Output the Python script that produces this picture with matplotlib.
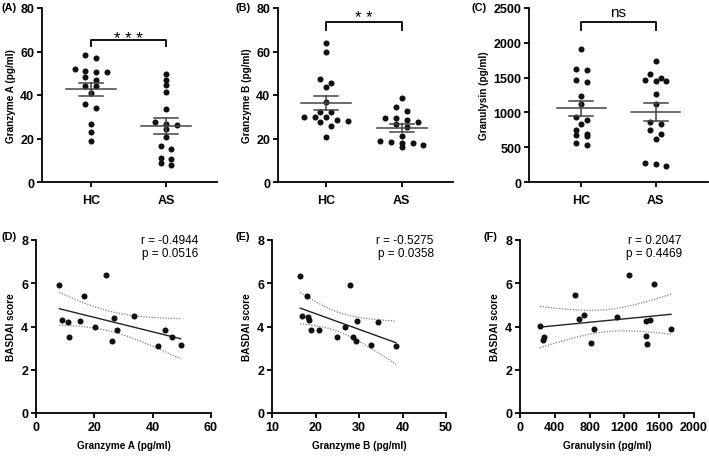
import numpy as np
import matplotlib
matplotlib.use("Agg")
import matplotlib.pyplot as plt

plt.rcParams["font.family"] = ["Liberation Sans", "DejaVu Sans"]

# ---- top row: group comparisons (HC vs AS) ----
groups = ["HC", "AS"]

gzma_hc = [57.2, 58.2, 50.8, 50.8, 51.2, 52.0, 46.9, 48.2, 44.0, 44.0,
           40.8, 35.8, 34.0, 26.6, 22.8, 18.8]
gzma_as = [49.7, 46.9, 44.6, 41.5, 33.5, 27.7, 26.6, 26.2, 24.3, 20.5,
           16.6, 15.1, 11.2, 10.5, 8.6, 7.8]

gzmb_hc = [63.8, 59.7, 47.4, 45.5, 43.5, 36.9, 32.0, 32.0, 29.7, 28.2,
           27.4, 29.7, 29.7, 28.5, 25.8, 20.8]
gzmb_as = [38.5, 32.8, 34.3, 29.2, 29.2, 27.8, 28.6, 26.6, 25.1, 21.2,
           16.9, 18.2, 17.8, 17.8, 18.9, 16.3]

gnly_hc = [1913, 1625, 1611, 1433, 1466, 1231, 1115, 928, 894, 832,
           750, 688, 673, 654, 567, 529]
gnly_as = [1745, 1553, 1457, 1466, 1495, 1457, 1264, 1115, 856, 827,
           750, 688, 625, 279, 255, 231]

# ---- bottom row: correlations with BASDAI ----
corr_gzma_x = [8.0, 8.8, 10.8, 11.2, 15.1, 16.6, 20.3, 23.9, 26.2, 26.8,
               27.7, 33.7, 41.7, 44.3, 46.7, 49.6]
corr_gzma_y = [5.91, 4.32, 4.19, 3.50, 4.25, 5.42, 3.99, 6.37, 3.35, 4.41,
               3.86, 4.50, 3.12, 3.86, 3.50, 3.15]

corr_gzmb_x = [16.5, 16.9, 18.0, 18.3, 18.6, 19.0, 20.7, 24.9, 26.7, 28.0,
               28.6, 29.3, 29.5, 32.8, 34.3, 38.5]
corr_gzmb_y = [6.34, 4.50, 5.42, 4.42, 4.32, 3.86, 3.86, 3.50, 3.99, 5.91,
               3.50, 3.35, 4.25, 3.15, 4.19, 3.09]

corr_gnly_x = [230, 261, 276, 632, 682, 739, 820, 851, 1115, 1257,
               1444, 1444, 1464, 1494, 1544, 1736]
corr_gnly_y = [4.04, 3.38, 3.50, 5.45, 4.35, 4.55, 3.24, 3.89, 4.45, 6.39,
               4.25, 3.55, 3.20, 4.30, 5.96, 3.89]

W, H = 709, 460
fig = plt.figure(figsize=(W / 100, H / 100), dpi=100)


def add_axes_px(left, top, right, bottom):
    return fig.add_axes([left / W, 1 - bottom / H, (right - left) / W, (bottom - top) / H])


def style_axes(ax):
    for side in ["top", "right"]:
        ax.spines[side].set_visible(False)
    for side in ["left", "bottom"]:
        ax.spines[side].set_linewidth(1.3)
    ax.tick_params(width=1.3, length=3.5, labelsize=9, pad=2)
    for lab in ax.get_xticklabels() + ax.get_yticklabels():
        lab.set_fontweight("bold")


def swarm_offsets(values, bin_size, step):
    # group close values into rows and center each row
    vals = np.asarray(values, dtype=float)
    order = np.argsort(-vals)
    offsets = np.zeros(len(vals))
    row = []
    start = None
    for idx in order:
        if start is None or start - vals[idx] < bin_size:
            if start is None:
                start = vals[idx]
            row.append(idx)
        else:
            offsets[row] = (np.arange(len(row)) - (len(row) - 1) / 2) * step
            row = [idx]
            start = vals[idx]
    offsets[row] = (np.arange(len(row)) - (len(row) - 1) / 2) * step
    return offsets


def group_panel(rect, data, ylim, yticks, ylabel, xlim, sig, bracket, tag_x):
    ax = add_axes_px(*rect)
    ymax = ylim[1]
    bin_size = ymax * 5.0 / 174
    for i, vals in enumerate(data):
        off = swarm_offsets(vals, bin_size, 0.143)
        ax.scatter(i + off, vals, s=19, color="#111111", zorder=3, linewidths=0)
        m = np.mean(vals)
        sem = np.std(vals, ddof=1) / np.sqrt(len(vals))
        ax.plot([i - 0.33, i + 0.33], [m, m], color="#444444", lw=1.1, zorder=4)
        ax.plot([i, i], [m - sem, m + sem], color="#444444", lw=1.1, zorder=4)
        for e in (m - sem, m + sem):
            ax.plot([i - 0.16, i + 0.16], [e, e], color="#444444", lw=1.1, zorder=4)
    top, low, txt_y, txt_size = bracket
    ax.plot([0, 0, 1, 1], [low, top, top, low], color="black", lw=1.3, clip_on=False)
    ax.text(0.5, txt_y, sig, ha="center", va="baseline", fontsize=txt_size)
    ax.set_xlim(*xlim)
    ax.set_ylim(*ylim)
    ax.set_yticks(yticks)
    ax.set_xticks([0, 1])
    ax.set_xticklabels(groups)
    ax.set_ylabel(ylabel, fontsize=7.2, fontweight="bold", labelpad=3)
    style_axes(ax)
    ax.tick_params(axis="x", pad=5)
    fig.text(tag_x[0] / W, 1 - 8 / H, tag_x[1], fontsize=7.8, fontweight="bold",
             ha="left", va="center")
    return ax


def corr_panel(rect, x, y, xlim, xticks, xlabel, r_txt, tag_x):
    ax = add_axes_px(*rect)
    x = np.asarray(x, dtype=float)
    y = np.asarray(y, dtype=float)
    ax.scatter(x, y, s=19, color="#111111", zorder=3, linewidths=0)
    b, a = np.polyfit(x, y, 1)
    n = len(x)
    resid = y - (a + b * x)
    s = np.sqrt(np.sum(resid ** 2) / (n - 2))
    sxx = np.sum((x - x.mean()) ** 2)
    xs = np.linspace(x.min(), x.max(), 100)
    ys = a + b * xs
    t_crit = 2.145  # t(0.975, df=14)
    band = t_crit * s * np.sqrt(1 / n + (xs - x.mean()) ** 2 / sxx)
    ax.plot(xs, ys, color="#222222", lw=1.0)
    ax.plot(xs, ys + band, color="#808080", lw=0.9, ls=(0, (1, 1.2)))
    ax.plot(xs, ys - band, color="#808080", lw=0.9, ls=(0, (1, 1.2)))
    ax.text(0.93, 1.035, r_txt, transform=ax.transAxes, ha="right", va="top",
            fontsize=8.5, linespacing=1.15)
    ax.set_xlim(*xlim)
    ax.set_xticks(xticks)
    ax.set_ylim(0, 8)
    ax.set_yticks([0, 2, 4, 6, 8])
    ax.set_ylabel("BASDAI score", fontsize=7.2, fontweight="bold", labelpad=4)
    ax.set_xlabel(xlabel, fontsize=7.2, fontweight="bold", labelpad=5)
    style_axes(ax)
    fig.text(tag_x[0] / W, 1 - 237 / H, tag_x[1], fontsize=7.8, fontweight="bold",
             ha="left", va="center")
    return ax


group_panel((42, 9, 217, 183), [gzma_hc, gzma_as], (0, 80), [0, 20, 40, 60, 80],
            "Granzyme A (pg/ml)", (-0.65, 1.68), "* * *", (65.5, 62.5, 63.9, 12), (1, "(A)"))
group_panel((278, 9, 453, 183), [gzmb_hc, gzmb_as], (0, 80), [0, 20, 40, 60, 80],
            "Granzyme B (pg/ml)", (-0.63, 1.675), "* *", (73.4, 69.8, 73.6, 12), (236, "(B)"))
group_panel((529, 9, 708, 183), [gnly_hc, gnly_as], (0, 2500), [0, 500, 1000, 1500, 2000, 2500],
            "Granulysin (pg/ml)", (-0.70, 1.70), "ns", (2298, 2178, 2385, 11), (471, "(C)"))

corr_panel((36, 241, 211, 414), corr_gzma_x, corr_gzma_y, (0, 60), [0, 20, 40, 60],
           "Granzyme A (pg/ml)", "r = -0.4944\np = 0.0516", (1, "(D)"))
corr_panel((272, 241, 446, 414), corr_gzmb_x, corr_gzmb_y, (10, 50), [10, 20, 30, 40, 50],
           "Granzyme B (pg/ml)", "r = -0.5275\np = 0.0358", (236, "(E)"))
corr_panel((520, 241, 694, 414), corr_gnly_x, corr_gnly_y, (0, 2000), [0, 400, 800, 1200, 1600, 2000],
           "Granulysin (pg/ml)", "r = 0.2047\np = 0.4469", (483, "(F)"))

fig.savefig("out.png", dpi=100)
plt.close(fig)
